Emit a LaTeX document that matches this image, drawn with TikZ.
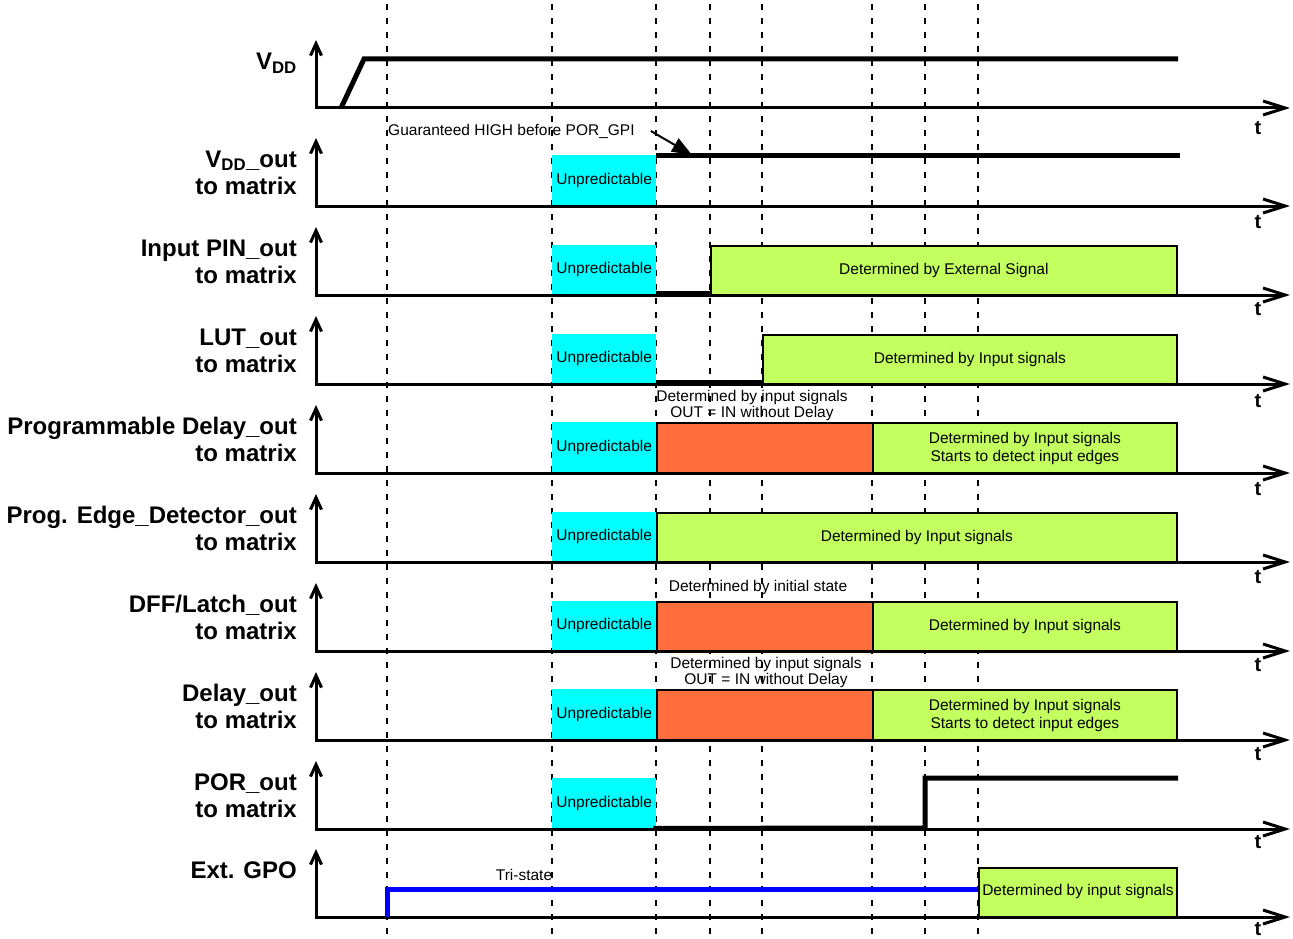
\documentclass[tikz,border=0pt]{standalone}
\usepackage{fontspec}
\setmainfont{Liberation Sans}
\usetikzlibrary{arrows.meta}
\definecolor{cyanfill}{RGB}{0,255,255}
\definecolor{greenfill}{RGB}{195,255,95}
\definecolor{orangefill}{RGB}{255,110,60}
\definecolor{bluesig}{RGB}{0,0,255}
\begin{document}
\begin{tikzpicture}[x=1pt,y=-1pt,
  txt/.style={inner sep=0pt, font=\fontsize{15.5}{16}\selectfont},
  lbl/.style={inner sep=0pt, anchor=east, align=right, font=\fontsize{24}{27}\selectfont\bfseries},
  tlbl/.style={inner sep=0pt, font=\fontsize{20}{20}\selectfont\bfseries},
  axisline/.style={line width=3pt, line join=miter,
     arrows={Straight Barb[length=12pt,width=11pt]-Straight Barb[length=22pt,width=14pt]}},
  sig/.style={line width=5pt, line join=miter},
  gridline/.style={line width=2.2pt, dash pattern=on 6pt off 8pt},
  unp/.style={fill=cyanfill, inner sep=0pt, anchor=north west, minimum width=104pt,
     font=\fontsize{15.5}{16}\selectfont},
  grn/.style={draw=black, line width=1.8pt, fill=greenfill, inner sep=0pt, anchor=north west,
     align=center, font=\fontsize{15.5}{16}\selectfont},
  org/.style={draw=black, line width=1.8pt, fill=orangefill, inner sep=0pt, anchor=north west,
     minimum width=216pt}
]
\useasboundingbox (0,0) rectangle (1293,939);

% free texts
\node[txt, anchor=west] (guar) at (388,131) {Guaranteed HIGH before POR\_GPI};
\node[txt, align=center] (n5) at (752,405.5) {Determined by input signals\\OUT = IN without Delay};
\node[txt] (n7) at (758,587) {Determined by initial state};
\node[txt, align=center] (n8) at (766,672) {Determined by input signals\\OUT = IN without Delay};
\node[txt] (tri) at (524,875) {Tri-state};

% dashed time markers
\foreach \x in {387,552,656,710,762,872,925,978}
  \draw[gridline] (\x,4) -- (\x,939);

% boxes
\node[unp, minimum height=51pt] (u2) at (552,155) {\raisebox{4pt}{Unpredictable}};
\node[unp, minimum height=50pt] (u3) at (552,245) {\raisebox{4pt}{Unpredictable}};
\node[grn, minimum width=466pt, minimum height=50pt] (g3) at (710,245) {\raisebox{4pt}{Determined by External Signal}};
\node[unp, minimum height=50pt] (u4) at (552,334) {\raisebox{4pt}{Unpredictable}};
\node[grn, minimum width=414pt, minimum height=50pt] (g4) at (762,334) {\raisebox{4pt}{Determined by Input signals}};
\node[unp, minimum height=51pt] (u5) at (552,422) {\raisebox{4pt}{Unpredictable}};
\node[org, minimum height=51pt] (o5) at (656,422) {};
\node[grn, minimum width=304pt, minimum height=51pt] (g5) at (872,422) {\raisebox{2pt}{\shortstack{Determined by Input signals\\Starts to detect input edges}}};
\node[unp, minimum height=50pt] (u6) at (552,512) {\raisebox{4pt}{Unpredictable}};
\node[grn, minimum width=520pt, minimum height=50pt] (g6) at (656,512) {\raisebox{4pt}{Determined by Input signals}};
\node[unp, minimum height=50pt] (u7) at (552,601) {\raisebox{4pt}{Unpredictable}};
\node[org, minimum height=50pt] (o7) at (656,601) {};
\node[grn, minimum width=304pt, minimum height=50pt] (g7) at (872,601) {\raisebox{4pt}{Determined by Input signals}};
\node[unp, minimum height=51pt] (u8) at (552,689) {\raisebox{4pt}{Unpredictable}};
\node[org, minimum height=51pt] (o8) at (656,689) {};
\node[grn, minimum width=304pt, minimum height=51pt] (g8) at (872,689) {\raisebox{2pt}{\shortstack{Determined by Input signals\\Starts to detect input edges}}};
\node[unp, minimum height=51pt] (u9) at (552,778) {\raisebox{4pt}{Unpredictable}};
\node[grn, minimum width=198pt, minimum height=50pt] (g10) at (978,867) {\raisebox{6pt}{Determined by input signals}};

% axes
\foreach \i/\b in {1/108,2/206,3/295,4/384,5/473,6/562,7/651,8/740,9/829,10/917}{
  \coordinate (o\i) at (316,\b);
  \draw[axisline] ([yshift=68pt]o\i) -- (o\i) -- ++(974,0);
}
\foreach \i/\y in {1/128,2/222,3/309,4/401,5/489,6/577,7/665,8/754,9/842,10/929}
  \node[tlbl] (t\i) at (1258,\y) {t};

% signals
\draw[sig] (341,108) -- (364,59) -- (1178,59);
\draw[sig] ([yshift=-1pt]u2.north east) -- (1180,156);
\draw[-{Triangle[length=20pt,width=15pt]}, line width=2pt] (guar.east) ++(16,0) -- (692,155);
\draw[sig] ([yshift=1.5pt]u3.south east) -- ([yshift=1.5pt]u3.south east -| g3.west);
\draw[sig] ([yshift=1.5pt]u4.south east) -- ([yshift=1.5pt]u4.south east -| g4.west);
\draw[sig] ([yshift=1pt]u9.south east) ++(-3,0) -- (925,828) -- (925,778) -- (1178,778);
\draw[line width=5pt, bluesig, line join=miter] (387,917) -- (387,889) -- (g10.west |- 0,889);

% left labels
\node[lbl] (l1) at (297,63) {V\textsubscript{DD}};
\node[lbl] (l2) at (297,172.5) {V\textsubscript{DD}\_out\\to matrix};
\node[lbl] (l3) at (297,261.5) {Input PIN\_out\\to matrix};
\node[lbl] (l4) at (297,350.5) {LUT\_out\\to matrix};
\node[lbl] (l5) at (297,439.5) {Programmable Delay\_out\\to matrix};
\node[lbl] (l6) at (297,528.5) {Prog. Edge\_Detector\_out\\to matrix};
\node[lbl] (l7) at (297,617.5) {DFF/Latch\_out\\to matrix};
\node[lbl] (l8) at (297,706.5) {Delay\_out\\to matrix};
\node[lbl] (l9) at (297,795.5) {POR\_out\\to matrix};
\node[lbl] (l10) at (297,870) {Ext. GPO};
\end{tikzpicture}
\end{document}
